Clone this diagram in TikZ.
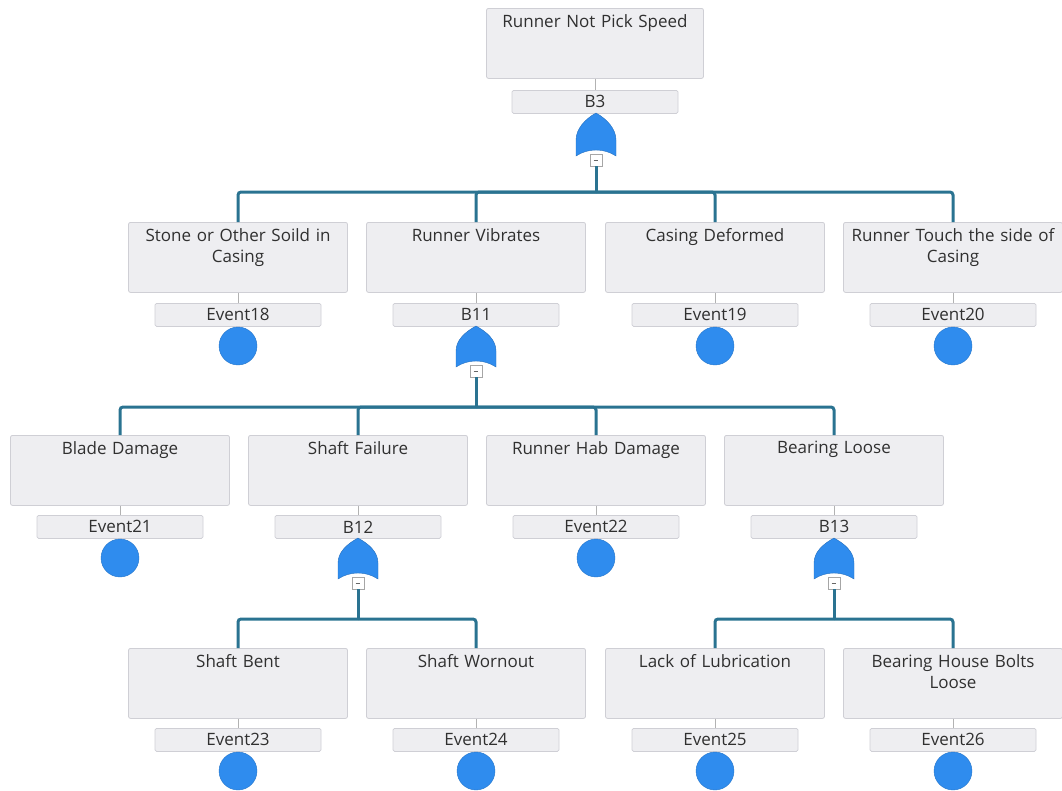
\documentclass[tikz,border=0pt]{standalone}
\usepackage{fontspec}
\setmainfont{Open Sans}
\usetikzlibrary{calc}

\definecolor{boxfill}{HTML}{EEEEF1}
\definecolor{boxline}{HTML}{CFCFD5}
\definecolor{treeline}{HTML}{2A7391}
\definecolor{gateblue}{HTML}{2F8CEE}
\definecolor{txt}{HTML}{303030}

\tikzset{
  x=1pt, y=-1pt,
  every node/.style={font=\fontsize{17}{21}\selectfont, text=txt},
  eventbox/.style={draw=boxline, fill=boxfill, rounded corners=2pt, line width=0.8pt,
    minimum width=219pt, minimum height=70pt, inner sep=0pt, anchor=north},
  boxtext/.style={anchor=north, align=center, text width=216pt, inner sep=0pt},
  idbar/.style={draw=boxline, fill=boxfill, rounded corners=1.5pt, line width=0.8pt,
    minimum width=166pt, minimum height=23pt, inner sep=0pt, anchor=north},
  basic/.style={circle, fill=gateblue, draw=gateblue!85!black, line width=0.4pt,
    minimum size=38pt, inner sep=0pt, anchor=north},
  collapse/.style={draw=gray!70, fill=white, minimum size=12pt, inner sep=0pt, anchor=north,
    path picture={\draw[gray!80!black, line width=0.8pt]
      ($(path picture bounding box.west)!0.3!(path picture bounding box.east)$) --
      ($(path picture bounding box.west)!0.7!(path picture bounding box.east)$);}},
  stub/.style={draw=gray!60, line width=1pt},
  tree/.style={draw=treeline, line width=3pt, rounded corners=3pt},
}

% OR gate outline, anchored at its bottom centre
\newcommand{\orgate}[2]{%
  \fill[gateblue, draw=gateblue!80!black, line width=0.4pt]
    ($(#1)+(-20,1)$) -- ++(0,-16)
    .. controls ++(0,-11) and ++(-11,6) .. ($(#1)+(0,-#2)$)
    .. controls ++(11,6) and ++(0,-11) .. ($(#1)+(20,-15)$)
    -- ($(#1)+(20,1)$)
    .. controls ($(#1)+(8,-7)$) and ($(#1)+(-8,-7)$) .. ($(#1)+(-20,1)$) -- cycle;}

\begin{document}
\begin{tikzpicture}
\useasboundingbox (0,0) rectangle (1062,790);

% ---------------- top event ----------------
\node[eventbox, minimum width=217pt] (top) at (595,8) {};
\node[boxtext] at ($(top.north)+(0,6)$) {Runner Not Pick Speed};
\node[idbar] (b3) at (595,90) {B3};
\coordinate (g3) at (596,155);
\node[collapse] (m3) at (596,154) {};
\draw[stub] (top.south) -- (b3.north);

% ---------------- level 2 ----------------
\foreach \n/\x/\t/\id in {
  s1/238/{Stone or Other Soild in\\Casing}/Event18,
  s2/476/{Runner Vibrates}/B11,
  s3/715/{Casing Deformed}/Event19,
  s4/953/{Runner Touch the side of\\Casing}/Event20}{
  \node[eventbox] (\n) at (\x,222) {};
  \node[boxtext] at ($(\n.north)+(0,6)$) {\t};
  \node[idbar] (\n id) at (\x,303) {\id};
  \draw[stub] (\n.south) -- (\n id.north);
}
\node[basic] (e18) at (s1id.south) {};
\node[basic] (e19) at (s3id.south) {};
\node[basic] (e20) at (s4id.south) {};
\coordinate (g11) at (476,366);
\node[collapse] (m11) at (476,365) {};

% ---------------- level 3 ----------------
\foreach \n/\x/\t/\id in {
  t1/120/{Blade Damage}/Event21,
  t2/358/{Shaft Failure}/B12,
  t3/596/{Runner Hab Damage}/Event22,
  t4/834/{Bearing Loose}/B13}{
  \node[eventbox] (\n) at (\x,435) {};
  \node[boxtext] at ($(\n.north)+(0,6)$) {\t};
  \node[idbar] (\n id) at (\x,515) {\id};
  \draw[stub] (\n.south) -- (\n id.north);
}
\node[basic] (e21) at (t1id.south) {};
\node[basic] (e22) at (t3id.south) {};
\coordinate (g12) at (358,578);
\node[collapse] (m12) at (358,577) {};
\coordinate (g13) at (834,578);
\node[collapse] (m13) at (834,577) {};

% ---------------- level 4 ----------------
\foreach \n/\x/\t/\id in {
  u1/238/{Shaft Bent}/Event23,
  u2/476/{Shaft Wornout}/Event24,
  u3/715/{Lack of Lubrication}/Event25,
  u4/953/{Bearing House Bolts\\Loose}/Event26}{
  \node[eventbox] (\n) at (\x,648) {};
  \node[boxtext] at ($(\n.north)+(0,6)$) {\t};
  \node[idbar] (\n id) at (\x,728) {\id};
  \draw[stub] (\n.south) -- (\n id.north);
  \node[basic] (\n ev) at (\n id.south) {};
}

% ---------------- gates ----------------
\orgate{g3}{42}
\orgate{g11}{40}
\orgate{g12}{40}
\orgate{g13}{40}

% ---------------- tree connectors ----------------
\coordinate (j3) at (596,192);
\coordinate (j11) at (476,407);
\coordinate (j12) at (358,619);
\coordinate (j13) at (834,619);

\foreach \m/\j/\kids in {m3/j3/{s1,s2,s3,s4}, m11/j11/{t1,t2,t3,t4},
                         m12/j12/{u1,u2}, m13/j13/{u3,u4}}{
  \draw[tree] (\m.south) -- (\j);
  \foreach \k in \kids {
    \draw[tree] (\j) -| (\k.north);
  }
}
\end{tikzpicture}
\end{document}
